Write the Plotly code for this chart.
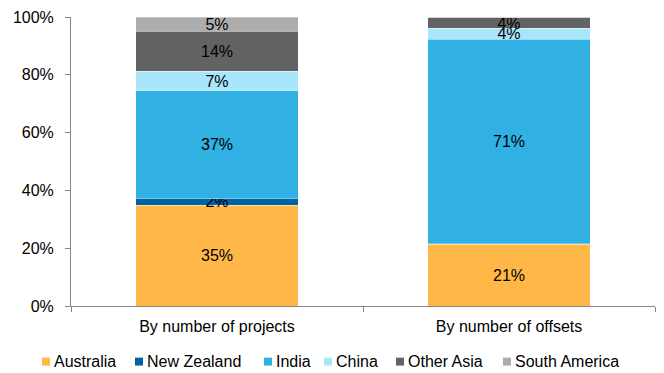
import plotly.graph_objects as go

categories = ["By number of projects", "By number of offsets"]
regions = ["Australia", "New Zealand", "India", "China", "Other Asia", "South America"]
shares = {
    "Australia": [34.9, 21.3],
    "New Zealand": [2.2, 0.2],
    "India": [37.4, 70.8],
    "China": [6.7, 3.8],
    "Other Asia": [13.9, 3.6],
    "South America": [4.9, 0.3],
}
colors = {
    "Australia": "#FFB847",
    "New Zealand": "#0063A3",
    "India": "#31B1E3",
    "China": "#A9E6FB",
    "Other Asia": "#636363",
    "South America": "#ADADAD",
}

font_family = "Liberation Sans, Arial, sans-serif"
FS = 16

# plot-area geometry in pixels, used to place the hand-built legend
W, H = 664, 373
L, R, T, B = 71, 9, 15, 67
plot_w = W - L - R
plot_h = H - T - B


def px_to_paper_x(px):
    return (px - L) / plot_w


def px_to_paper_y(py):
    return (H - B - py) / plot_h


fig = go.Figure()
for r in regions:
    vals = shares[r]
    labels = [f"{v:.0f}%" if v >= 1 else "" for v in vals]
    fig.add_trace(go.Bar(
        name=r,
        x=categories,
        y=vals,
        text=labels,
        textposition="inside",
        insidetextanchor="middle",
        constraintext="none",
        textangle=0,
        textfont=dict(color="#000000", size=FS, family=font_family),
        marker=dict(color=colors[r], line=dict(color="rgba(255,255,255,0.6)", width=0.5)),
        hoverinfo="skip",
        showlegend=False,
    ))

# legend row: small square swatch followed by the region name
legend_swatch_left = [42, 135, 264, 324, 396, 503]
legend_mid_y = 362
swatch = 8
for r, sx in zip(regions, legend_swatch_left):
    fig.add_shape(
        type="rect", xref="paper", yref="paper",
        x0=px_to_paper_x(sx), x1=px_to_paper_x(sx + swatch),
        y0=px_to_paper_y(legend_mid_y + swatch / 2), y1=px_to_paper_y(legend_mid_y - swatch / 2),
        fillcolor=colors[r], line=dict(width=0),
    )
    fig.add_annotation(
        text=r, xref="paper", yref="paper",
        x=px_to_paper_x(sx + swatch + 3), y=px_to_paper_y(legend_mid_y),
        xanchor="left", yanchor="middle", showarrow=False,
        font=dict(size=FS, family=font_family, color="#000000"),
        borderpad=0,
    )

fig.update_layout(
    barmode="stack",
    bargap=0.445,
    width=W,
    height=H,
    margin=dict(l=L, r=R, t=T, b=B),
    plot_bgcolor="white",
    paper_bgcolor="white",
    font=dict(family=font_family, size=FS, color="#000000"),
    showlegend=False,
)
fig.update_xaxes(
    showline=True, linecolor="#868686", linewidth=1,
    ticks="outside", tickson="boundaries", ticklen=5, tickcolor="#868686",
    ticklabelstandoff=6,
    showgrid=False,
)
fig.update_yaxes(
    range=[0, 100],
    tickvals=[0, 20, 40, 60, 80, 100],
    ticktext=["0%", "20%", "40%", "60%", "80%", "100%"],
    showline=True, linecolor="#868686", linewidth=1,
    ticks="outside", ticklen=5, tickcolor="#868686",
    ticklabelstandoff=8,
    showgrid=False, zeroline=False,
)

fig.write_html("out.html")
